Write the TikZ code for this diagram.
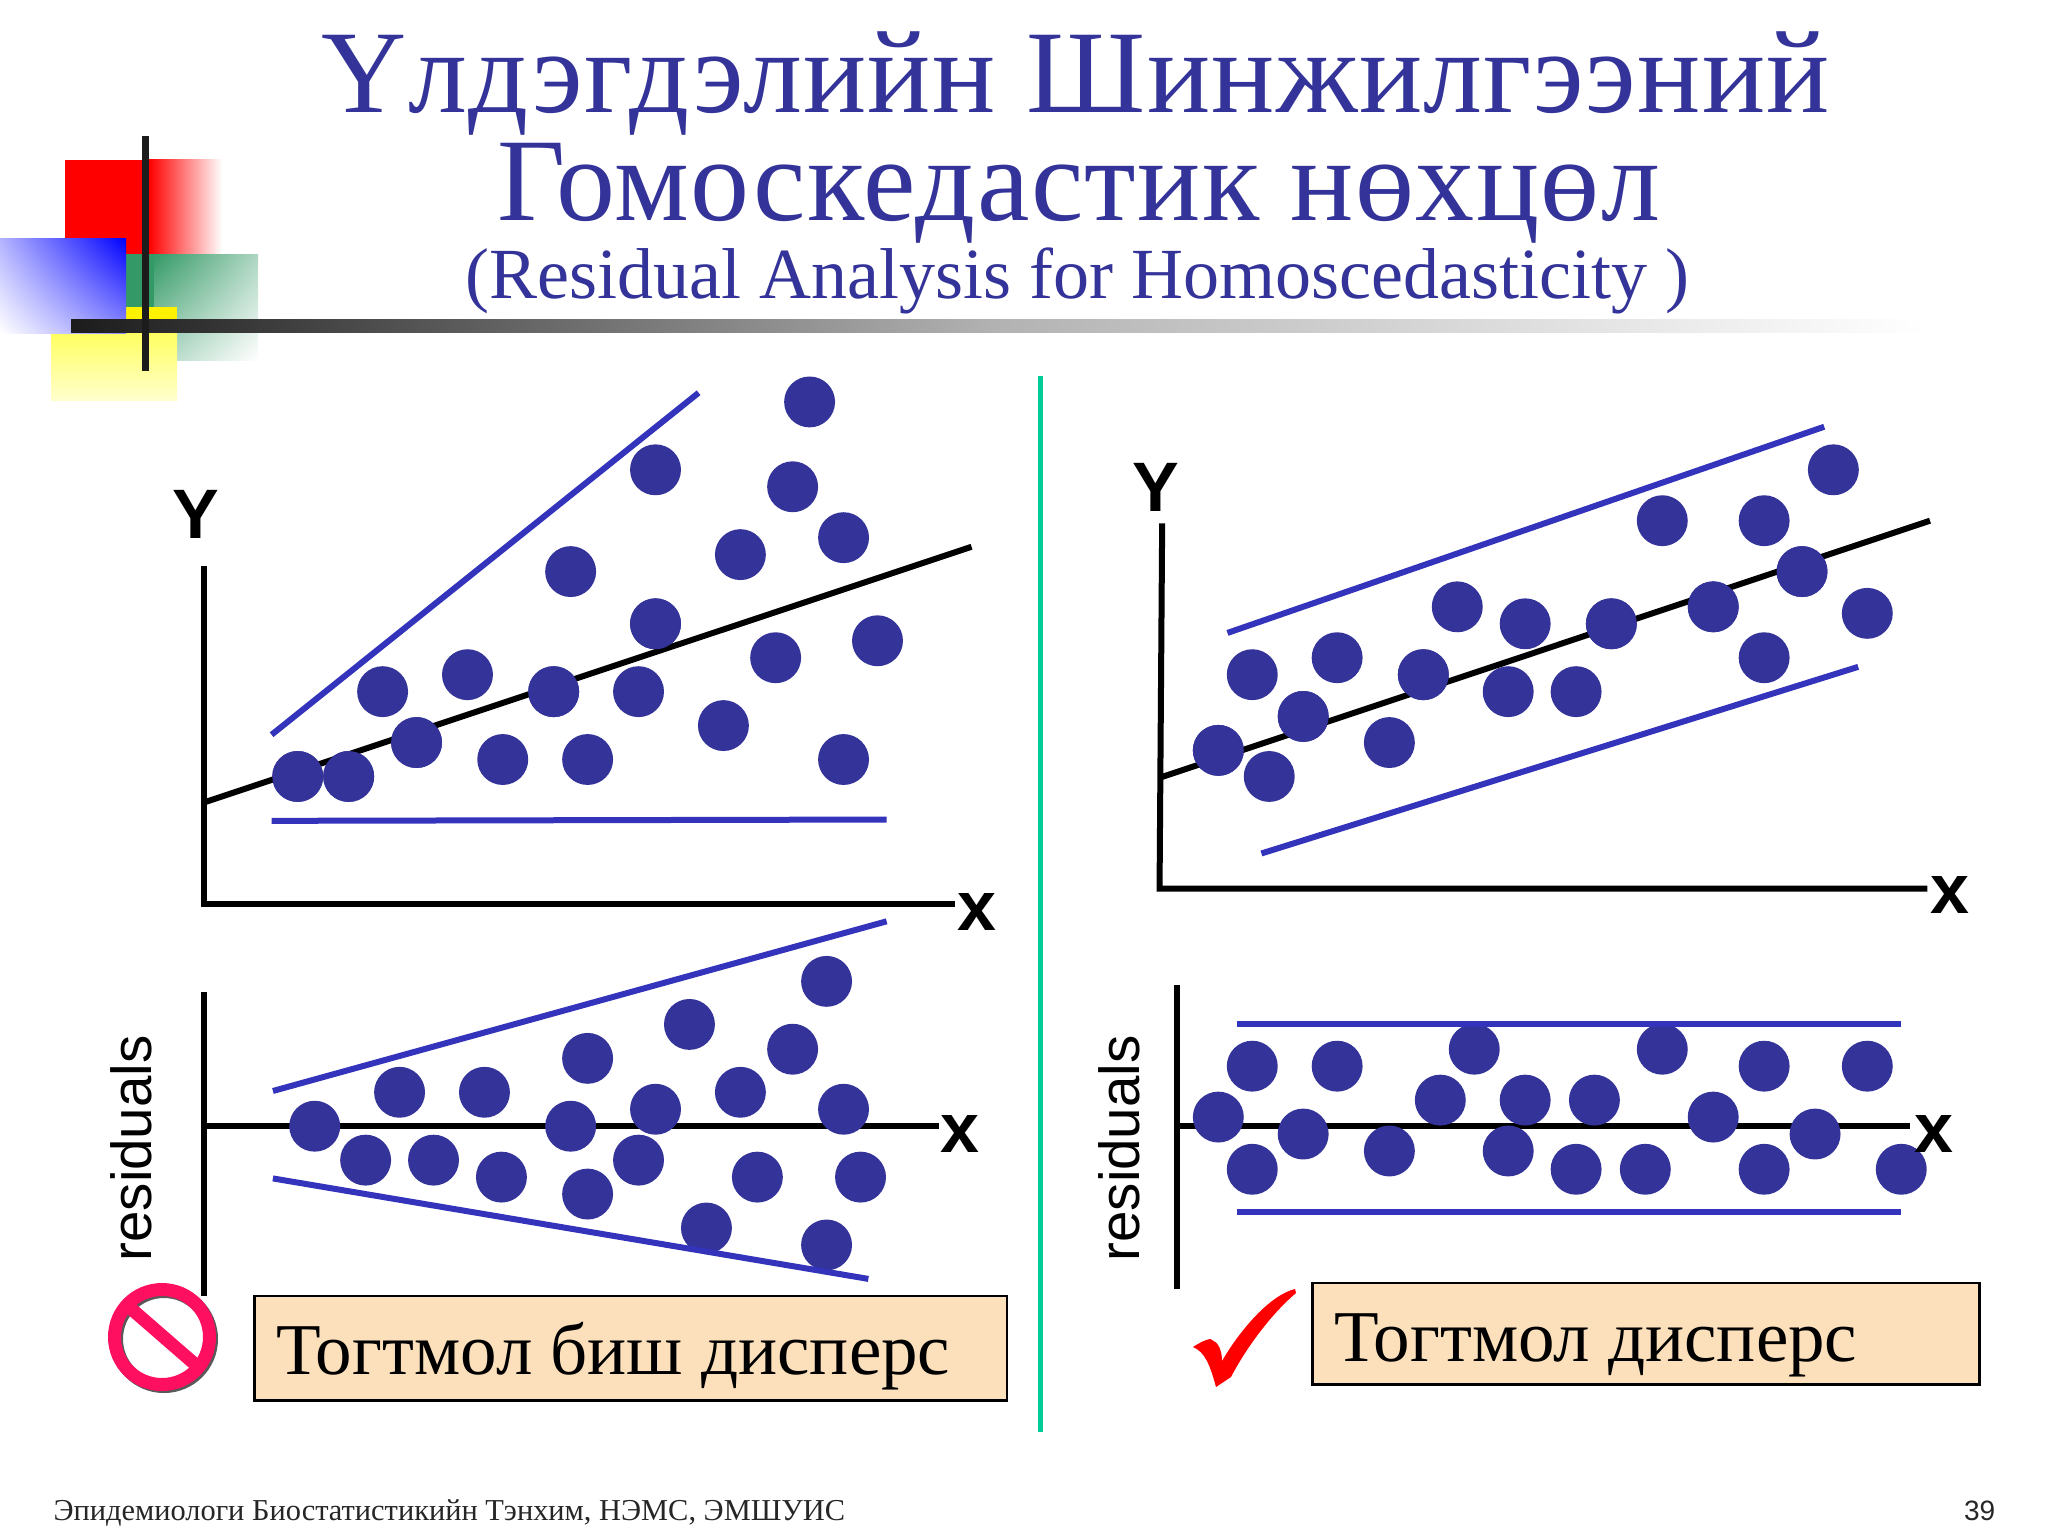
\documentclass[tikz,border=0pt]{standalone}
\usepackage{fontspec}
\usetikzlibrary{shadings}
\setmainfont{Liberation Serif}
\setsansfont{Liberation Sans}
\newfontfamily\titlefont[LetterSpace=1.2]{Liberation Serif}
\definecolor{titleblue}{HTML}{333399}
\definecolor{dotblue}{HTML}{333399}
\definecolor{bandblue}{HTML}{3333BB}
\definecolor{teal1}{HTML}{00CC99}
\definecolor{boxfill}{HTML}{FCE0BC}
\definecolor{forbid}{HTML}{FF0F5F}
\definecolor{barblack}{HTML}{1C1C1C}
\definecolor{decogreen}{HTML}{339966}
\newcommand{\fs}[1]{\fontsize{#1}{#1}\selectfont}
\tikzset{
  px/.style={x=1pt,y=-1pt},
  disp/.style={x=1.3058pt,y=-1.305pt,shift={(0,1)}},
  axisline/.style={draw=black,line width=6pt,line cap=butt,line join=miter},
  regline/.style={draw=black,line width=6pt},
  bandline/.style={draw=bandblue,line width=6pt},
  dotmark/.style={fill=dotblue},
  labelbase/.style={inner sep=0pt,outer sep=0pt},
  axlabel/.style={labelbase,anchor=base,font=\sffamily\bfseries\fs{70}},
  reslabel/.style={labelbase,anchor=base,rotate=90,font=\sffamily\fs{56.5}},
  titletext/.style={labelbase,anchor=base,text=titleblue,font=\titlefont\fs{118}},
  subtext/.style={labelbase,anchor=base,text=titleblue,font=\fs{72}},
  notebox/.style={draw=black,line width=2.5pt,fill=boxfill},
  notetext/.style={labelbase,anchor=base west,text=black,font=\fs{73}},
  foot/.style={labelbase,anchor=base west,text=black!85,font=\fs{30.4}},
}
\newcommand{\dotset}[1]{\foreach \p in {#1} {\fill[dotmark] \p circle (19.5);}}
\begin{document}
\begin{tikzpicture}[px]
\useasboundingbox (0,0) rectangle (2048,1536);
\fill[white] (0,0) rectangle (2048,1536);
% decoration (reference pixels)
\fill[red] (65,160) rectangle (149,254);
\shade[left color=red,right color=white] (149,160) rectangle (222,254);
\fill[decogreen] (126,254) rectangle (154,308);
\shade[upper left=decogreen,upper right=decogreen!40,lower left=decogreen!40,lower right=white] (154,254) rectangle (258,360);
\shade[top color=yellow!70,bottom color=yellow!20] (51,320) rectangle (177,400);
\fill[yellow] (126,307) rectangle (177,320);
\shade[upper left=blue!30,upper right=blue,lower left=white,lower right=blue!45] (0,238) rectangle (126,333);
\shade[left color=barblack,right color=white,middle color=black!30] (71,319) rectangle (1925,332);
\fill[barblack] (142,136) rectangle (149,371);
% no-entry sign
\draw[black!65,line width=13pt] (164,1339) circle (47.5);
\draw[forbid,line width=13pt] (162,1337) circle (47.5);
\draw[forbid,line width=13pt] (128,1306) -- (197,1366);
% tick
\fill[red] (1193,1347) .. controls (1205,1339) and (1212,1338) .. (1212,1340)
  .. controls (1218,1342) and (1222,1350) .. (1222,1361)
  .. controls (1240,1330) and (1270,1295) .. (1295,1289)
  -- (1296,1293) .. controls (1270,1315) and (1245,1350) .. (1231,1377)
  -- (1216,1387) .. controls (1210,1365) and (1205,1352) .. (1193,1347) -- cycle;
\begin{scope}[disp]
% titles
\node[titletext] (t1) at (824,85) {Үлдэгдэлийн Шинжилгээний};
\node[titletext] (t2) at (826,168) {Гомоскедастик нөхцөл};
\node[subtext] (t3) at (825,227.5) {(Residual Analysis for Homoscedasticity )};
% separator
\draw[teal1,line width=5pt] (797,287) -- (797,1096);
% top left
\dotset{(228,594),(267,594),(319,568),(293,529),(358,516),(385,581),(424,529),(450,581),(437,437),(489,529),(502,477),(502,359),(554,555),(567,424),(594,503),(607,372),(620,307),(646,411),(646,581),(672,490)}
\draw[axisline] (156,433) -- (156,692) -- (731,692);
\draw[regline] (156,614) -- (744,418);
\dotset{(228,594),(267,594),(319,568),(424,529),(502,477)}
\draw[bandline] (208,562) -- (535,300);
\draw[bandline] (208,628) -- (679,627);
\node[axlabel] (yl) at (150,412) {Y};
\node[axlabel] (xl) at (748,712) {x};
% top right
\dotset{(933,574),(972,594),(959,516),(998,548),(1024,503),(1064,568),(1090,516),(1116,464),(1155,529),(1168,477),(1207,529),(1234,477),(1273,398),(1312,464),(1351,398),(1351,503),(1380,437),(1404,359),(1430,469)}
\draw[axisline] (890,400) -- (888,680) -- (1476,680);
\draw[regline] (888,595) -- (1478,398);
\dotset{(933,574),(998,548),(1090,516),(1234,477),(1312,464),(1380,437)}
\draw[bandline] (940,484) -- (1397,326);
\draw[bandline] (966,653) -- (1423,510);
\node[axlabel] (yr) at (885,391) {Y};
\node[axlabel] (xr) at (1493,699) {x};
% bottom left
\draw[axisline] (156,759) -- (156,992);
\draw[axisline] (156,862) -- (719,862);
\dotset{(241,862),(280,888),(306,836),(332,888),(371,836),(384,901),(437,862),(450,810),(450,914),(489,888),(502,849),(528,784),(541,940),(567,836),(580,901),(607,803),(633,751),(633,953),(646,849),(659,901)}
\draw[bandline] (209,835) -- (679,705);
\draw[bandline] (209,902) -- (665,979);
\node[axlabel] (xbl) at (735,882) {x};
\node[reslabel] (rl) at (116,879) {residuals};
% bottom right
\draw[axisline] (901,754) -- (901,987);
\draw[axisline] (901,862) -- (1463,862);
\dotset{(933,855),(959,816),(959,895),(998,868),(1024,816),(1064,881),(1103,842),(1129,803),(1155,881),(1168,842),(1207,895),(1221,842),(1260,895),(1273,803),(1312,855),(1351,816),(1351,895),(1390,868),(1430,816),(1456,895)}
\draw[bandline] (947,784) -- (1456,784);
\draw[bandline] (947,928) -- (1456,928);
\node[axlabel] (xbr) at (1481,882) {x};
\node[reslabel] (rr) at (873,879) {residuals};
% notes
\draw[notebox] (195,992) rectangle (771,1072);
\node[notetext] (nl) at (212,1052) {Тогтмол биш дисперс};
\draw[notebox] (1005,982) rectangle (1516,1060);
\node[notetext] (nr) at (1022,1042) {Тогтмол дисперс};
% footer
\node[foot] (f) at (41,1164) {Эпидемиологи Биостатистикийн Тэнхим, НЭМС, ЭМШУИС};
\node[labelbase,anchor=base east,font=\sffamily\fs{28},text=black!85] (pg) at (1528,1164) {39};
\end{scope}
\end{tikzpicture}
\end{document}
